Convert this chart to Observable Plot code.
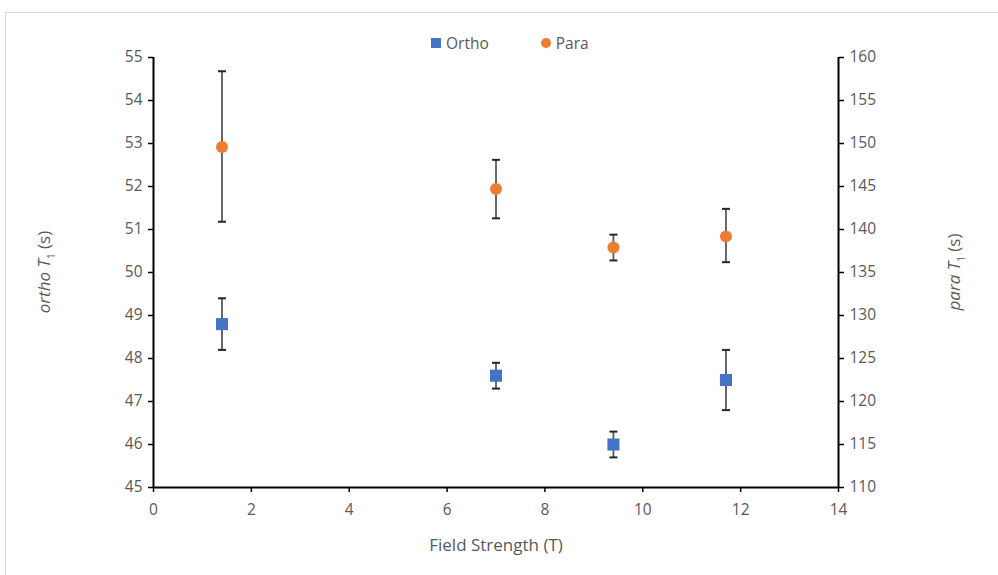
<!DOCTYPE html>
<html>
<head>
<meta charset="utf-8">
<script src="https://cdn.jsdelivr.net/npm/d3@7"></script>
<script src="https://cdn.jsdelivr.net/npm/@observablehq/plot@0.6"></script>
<style>
  html, body { margin: 0; padding: 0; background: #fff; }
  #wrap { position: relative; width: 998px; height: 575px; overflow: hidden; font-family: "Open Sans", sans-serif; color: #595959; }
  #frame { position: absolute; left: 5px; top: 12px; width: 1000px; height: 600px; border: 1px solid #d9d9d9; box-sizing: border-box; }
  #chart { position: absolute; left: 0; top: 0; }
  .legend { position: absolute; top: 32px; left: 431px; font-size: 15.5px; display: flex; align-items: center; }
  .legend .sw { display: inline-block; width: 10px; height: 10px; margin-right: 5px; }
  .legend .item { display: flex; align-items: center; margin-right: 52px; }
  .ylab { position: absolute; font-size: 17px; white-space: nowrap; transform: translate(-50%, -50%) rotate(-90deg); }
  .ylab i { font-style: italic; }
</style>
</head>
<body>
<div id="wrap">
  <div id="frame"></div>
  <div id="chart"></div>
  <div class="legend">
    <span class="item"><span class="sw" style="background:#4472C4"></span>Ortho</span>
    <span class="item"><span class="sw" style="background:#ED7D31;border-radius:50%"></span>Para</span>
  </div>
  <div class="ylab" style="left:45px; top:272px;"><i>ortho T</i><sub style="font-size:10px">1</sub> (s)</div>
  <div class="ylab" style="left:955px; top:272px;"><i>para T</i><sub style="font-size:10px">1</sub> (s)</div>
</div>
<script>
// ---- data ----
const field = [1.4, 7.0, 9.4, 11.7];
const orthoT1 = [48.8, 47.6, 46.0, 47.5];
const orthoLow = [48.2, 47.3, 45.7, 46.8];
const orthoHigh = [49.4, 47.9, 46.3, 48.2];
const paraT1 = [149.6, 144.7, 137.9, 139.2];
const paraLow = [140.9, 141.3, 136.4, 136.2];
const paraHigh = [158.4, 148.1, 139.4, 142.4];
const xTicks = [0, 2, 4, 6, 8, 10, 12, 14];
const leftTicks = [45, 46, 47, 48, 49, 50, 51, 52, 53, 54, 55];
const rightTicks = [110, 115, 120, 125, 130, 135, 140, 145, 150, 155, 160];

// map right-axis (para) values onto the left scale domain
const leftDom = [45, 55], rightDom = [110, 160];
const toLeft = v => leftDom[0] + (v - rightDom[0]) * (leftDom[1] - leftDom[0]) / (rightDom[1] - rightDom[0]);
const fromLeft = v => Math.round(rightDom[0] + (v - leftDom[0]) * (rightDom[1] - rightDom[0]) / (leftDom[1] - leftDom[0]));

const ortho = field.map((x, i) => ({x, y: orthoT1[i], lo: orthoLow[i], hi: orthoHigh[i]}));
const para = field.map((x, i) => ({x, y: toLeft(paraT1[i]), lo: toLeft(paraLow[i]), hi: toLeft(paraHigh[i])}));

const cap = { draw(ctx, size) { ctx.moveTo(-4, 0); ctx.lineTo(4, 0); } };

function errMarks(data) {
  return [
    Plot.ruleX(data, {x: "x", y1: "lo", y2: "hi", stroke: "#595959", strokeWidth: 1.8}),
    Plot.dot(data, {x: "x", y: "lo", symbol: cap, stroke: "#262626", strokeWidth: 2, r: 4}),
    Plot.dot(data, {x: "x", y: "hi", symbol: cap, stroke: "#262626", strokeWidth: 2, r: 4})
  ];
}

const chart = Plot.plot({
  width: 998, height: 575,
  marginLeft: 153, marginRight: 160, marginTop: 57, marginBottom: 88,
  style: {fontFamily: "Open Sans, sans-serif", fontSize: "15.5px", color: "#595959", background: "transparent"},
  x: {domain: [0, 14]},
  y: {domain: leftDom},
  marks: [
    Plot.axisX({ticks: xTicks, tickSize: 5, tickPadding: 11, stroke: "#000", strokeWidth: 1.5, fill: "#595959", label: null}),
    Plot.axisY({ticks: leftTicks, tickSize: 5, tickPadding: 6, stroke: "#000", strokeWidth: 1.5, fill: "#595959", label: null}),
    Plot.axisY({anchor: "right", ticks: rightTicks.map(toLeft), tickFormat: fromLeft, tickSize: 5, tickPadding: 6, stroke: "#000", strokeWidth: 1.5, fill: "#595959", label: null}),
    Plot.ruleY([leftDom[0]], {stroke: "#000", strokeWidth: 2}),
    Plot.ruleX([0, 14], {stroke: "#000", strokeWidth: 2}),
    ...errMarks(para),
    ...errMarks(ortho),
    Plot.dot(para, {x: "x", y: "y", symbol: "circle", r: 6, fill: "#ED7D31"}),
    Plot.dot(ortho, {x: "x", y: "y", symbol: "square", r: 6.8, fill: "#4472C4"}),
    Plot.text(["Field Strength (T)"], {frameAnchor: "bottom", dy: 63, fontSize: 17, fill: "#595959"})
  ]
});
document.getElementById("chart").appendChild(chart);
</script>
</body>
</html>
